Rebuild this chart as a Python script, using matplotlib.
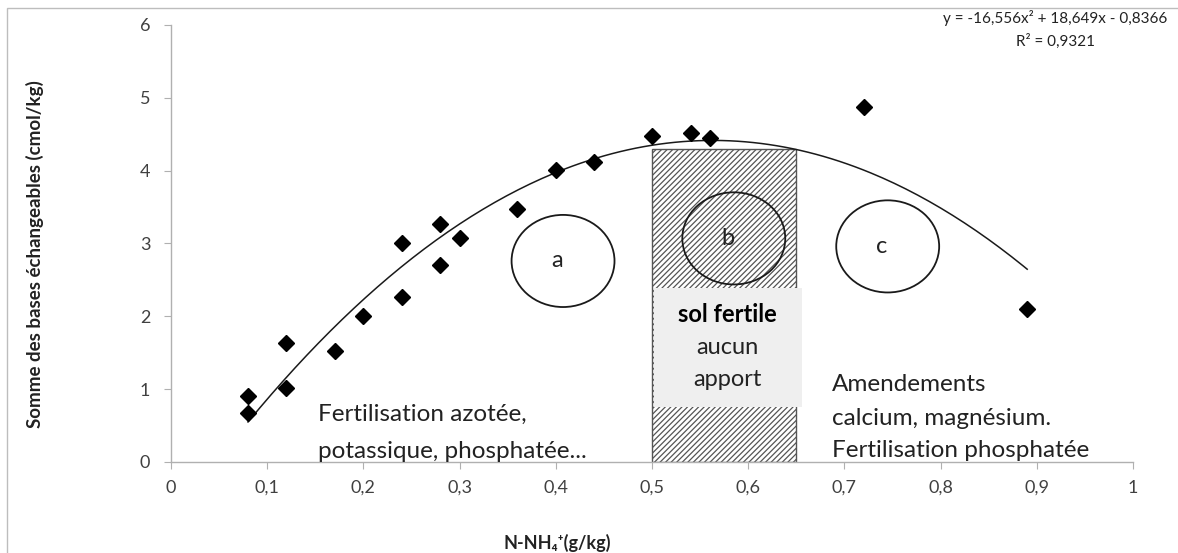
import numpy as np
import matplotlib
matplotlib.use('Agg')
import matplotlib.pyplot as plt
from matplotlib.patches import Rectangle, Ellipse

plt.rcParams['font.family'] = ['Lato', 'DejaVu Sans']
plt.rcParams['hatch.linewidth'] = 0.9

# Data
nh4 = [0.08, 0.08, 0.12, 0.12, 0.17, 0.20, 0.24, 0.24, 0.28, 0.28, 0.30,
       0.36, 0.40, 0.44, 0.50, 0.54, 0.56, 0.72, 0.89]
bases = [0.90, 0.67, 1.63, 1.02, 1.53, 2.01, 3.01, 2.27, 3.27, 2.71, 3.07,
         3.48, 4.01, 4.12, 4.48, 4.52, 4.45, 4.88, 2.10]

# Polynomial trend (Excel)
coef = [-16.556, 18.649, -0.8366]

x_ticks = [0, 0.1, 0.2, 0.3, 0.4, 0.5, 0.6, 0.7, 0.8, 0.9, 1]
x_tick_labels = ['0', '0,1', '0,2', '0,3', '0,4', '0,5', '0,6', '0,7', '0,8', '0,9', '1']
y_ticks = [0, 1, 2, 3, 4, 5, 6]

# Zones
fertile_x = (0.5, 0.65)
fertile_top = 4.3
zone_labels = ['a', 'b', 'c']
zone_x = [0.4075, 0.585, 0.745]
zone_y = [2.76, 3.07, 2.96]

fig = plt.figure(figsize=(11.78, 5.53), dpi=100)
ax = fig.add_axes([0.1452, 0.1646, 0.8166, 0.7902])

# Outer chart border
fig.patches.append(Rectangle((7 / 1178, -0.1), 1.2, 1 - 8 / 553 + 0.1,
                             transform=fig.transFigure, fill=False,
                             edgecolor='#bdbdbd', linewidth=1.0))

# Hatched "fertile" band
ax.add_patch(Rectangle((fertile_x[0], 0), fertile_x[1] - fertile_x[0], fertile_top,
                       facecolor='white', edgecolor='#555555', hatch='//////',
                       linewidth=1.0, zorder=1))
ax.add_patch(Rectangle((0.502, 0.76), 0.154, 2.39 - 0.76,
                       facecolor='#efefef', edgecolor='none', zorder=2))
ax.text(0.578, 2.02, 'sol fertile', ha='center', va='center', fontsize=17,
        fontweight='bold', zorder=5)
ax.text(0.578, 1.57, 'aucun', ha='center', va='center', fontsize=17, color='#222222', zorder=5)
ax.text(0.578, 1.13, 'apport', ha='center', va='center', fontsize=17, color='#222222', zorder=5)

# Trend line
xs = np.linspace(min(nh4), max(nh4), 200)
ax.plot(xs, np.polyval(coef, xs), color='#1a1a1a', linewidth=1.1, zorder=3)

# Points
ax.plot(nh4, bases, linestyle='none', marker='D', markersize=8,
        color='black', zorder=4)

# Circles a, b, c
for lab, cx, cy in zip(zone_labels, zone_x, zone_y):
    ax.add_patch(Ellipse((cx, cy), 0.107, 1.265, fill=False, edgecolor='#1a1a1a',
                         linewidth=1.3, zorder=4))
    ax.text(cx - 0.006, cy, lab, ha='center', va='center', fontsize=17,
            color='#222222', zorder=5)

# Zone descriptions
ax.text(0.153, 0.65, 'Fertilisation azotée,', ha='left', va='center', fontsize=17.5, color='#222222')
ax.text(0.153, 0.15, 'potassique, phosphatée...', ha='left', va='center', fontsize=17.5, color='#222222')
ax.text(0.687, 1.07, 'Amendements', ha='left', va='center', fontsize=17.5, color='#222222')
ax.text(0.687, 0.60, 'calcium, magnésium.', ha='left', va='center', fontsize=17.5, color='#222222')
ax.text(0.687, 0.16, 'Fertilisation phosphatée', ha='left', va='center', fontsize=17.5, color='#222222')

# Axes styling
ax.set_xlim(0, 1)
ax.set_ylim(0, 6)
ax.set_xticks(x_ticks)
ax.set_xticklabels(x_tick_labels)
ax.set_yticks(y_ticks)
for s in ['top', 'right']:
    ax.spines[s].set_visible(False)
for s in ['left', 'bottom']:
    ax.spines[s].set_color('#b0b0b0')
    ax.spines[s].set_linewidth(1.0)
ax.tick_params(axis='both', colors='#b0b0b0', length=5, labelsize=13,
               labelcolor='#404040')
ax.tick_params(axis='x', pad=8)
ax.tick_params(axis='y', pad=10)

# Axis titles
fig.text(0.030, 0.54, 'Somme des bases échangeables (cmol/kg)', rotation=90,
         ha='center', va='center', fontsize=13.5, fontweight='bold', color='#222222')
fig.text(557 / 1178, 1 - 543 / 553, 'N-NH₄⁺(g/kg)', ha='center', va='center',
         fontsize=13, fontweight='bold', color='#222222')

# Equation
fig.text(1167 / 1178, 1 - 18 / 553, 'y = -16,556x² + 18,649x - 0,8366', ha='right',
         va='center', fontsize=11, color='#222222')
fig.text(1056 / 1178, 1 - 41 / 553, 'R² = 0,9321', ha='center', va='center',
         fontsize=11, color='#222222')

fig.savefig('out.png', dpi=100)
